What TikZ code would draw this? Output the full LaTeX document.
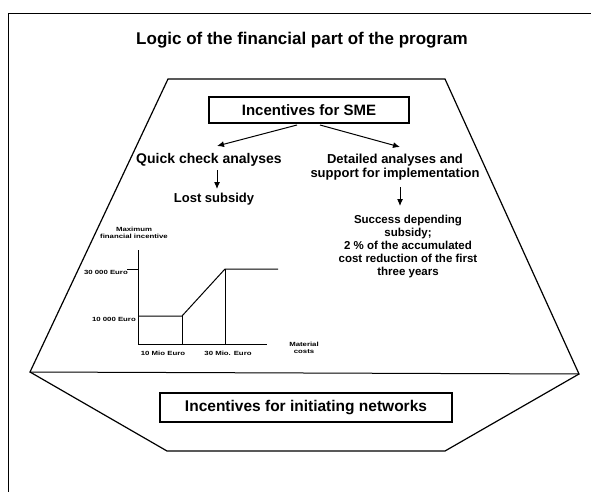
\documentclass[tikz,border=0pt]{standalone}
\usepackage{fontspec}
\setmainfont{Liberation Sans}
\usetikzlibrary{arrows.meta}
\newcommand{\widetxt}[1]{\scalebox{1.3}[1]{\shortstack{#1}}}
\begin{document}
\begin{tikzpicture}[x=1pt,y=-1pt,line join=miter,
  txt/.style={font=\bfseries, align=center, inner sep=0pt},
  boxed/.style={draw, line width=1.1pt, inner sep=0pt},
  arr/.style={-{Latex[length=7pt,width=6pt]}, line width=1pt},
  tiny/.style={font=\bfseries\fontsize{6}{6.5}\selectfont, inner sep=0pt, align=center},
  chart/.style={line width=1pt}]
\useasboundingbox (0,0) rectangle (591,492);
% outer frame
\draw[line width=0.8pt] (8,492) -- (8,13) -- (591,13);
\node[txt, font=\bfseries\fontsize{17}{19}\selectfont] (title) at (302,40) {Logic of the financial part of the program};
% hexagon
\coordinate (h1) at (168,79);
\coordinate (h2) at (445,79);
\coordinate (h3) at (579,374);
\coordinate (h4) at (445,451);
\coordinate (h5) at (167,451);
\coordinate (h6) at (30,372);
\draw[line width=1.2pt] (h1) -- (h2) -- (h3) -- (h4) -- (h5) -- (h6) -- cycle;
\draw[line width=1pt] (h6) -- (h3);
% boxes
\node[boxed, minimum width=200pt, minimum height=26pt, font=\bfseries\fontsize{15}{17}\selectfont] (sme) at (309,110) {Incentives for SME};
\node[boxed, minimum width=292pt, minimum height=29pt, font=\bfseries\fontsize{15.5}{17}\selectfont] (net) at (306,407.5) {Incentives for initiating networks};
% left branch
\node[txt, font=\bfseries\fontsize{14}{16}\selectfont] (qc) at (209,160) {Quick check analyses};
\node[txt, font=\bfseries\fontsize{13}{15}\selectfont] (lost) at (214,199) {Lost subsidy};
% right branch
\node[txt, font=\bfseries\fontsize{13}{14}\selectfont] (det) at (395,167) {Detailed analyses and\\support for implementation};
\node[txt, font=\bfseries\fontsize{11.5}{13}\selectfont] (succ) at (408,247) {Success depending\\subsidy;\\2 \% of the accumulated\\cost reduction of the first\\three years};
% arrows
\coordinate (sl) at (297,125);
\coordinate (sr) at (320,125);
\coordinate (tl) at (217,146);
\coordinate (tr) at (400,147);
\draw[arr] (sl) -- (tl);
\draw[arr] (sr) -- (tr);
\coordinate (d1a) at (217,170);
\coordinate (d1b) at (217,189);
\draw[arr] (d1a) -- (d1b);
\coordinate (d2a) at (400,187);
\coordinate (d2b) at (400,206);
\draw[arr] (d2a) -- (d2b);
% chart
\coordinate (o) at (138,344);
\coordinate (ytop) at (138,250);
\coordinate (xend) at (267,344);
\draw[chart] (ytop) -- (o) -- (xend);
\coordinate (t30) at (127,269);
\coordinate (p1) at (138,316);
\coordinate (p2) at (182,316);
\coordinate (p3) at (225,269);
\coordinate (p4) at (278,269);
\draw[chart] (t30) -- (138,269);
\draw[chart] (p1) -- (p2) -- (p3) -- (p4);
\draw[chart] (p2) -- (p2 |- o);
\draw[chart] (p3) -- (p3 |- o);
\node[tiny] (maxl) at (134,233) {\widetxt{Maximum\\financial incentive}};
\node[tiny, anchor=east] (e30) at (128,272) {\widetxt{30 000 Euro}};
\node[tiny, anchor=east] (e10) at (136,319) {\widetxt{10 000 Euro}};
\node[tiny] (m10) at (163,353) {\widetxt{10 Mio Euro}};
\node[tiny] (m30) at (228,353) {\widetxt{30 Mio. Euro}};
\node[tiny] (mat) at (304,348) {\widetxt{Material\\costs}};
\end{tikzpicture}
\end{document}
